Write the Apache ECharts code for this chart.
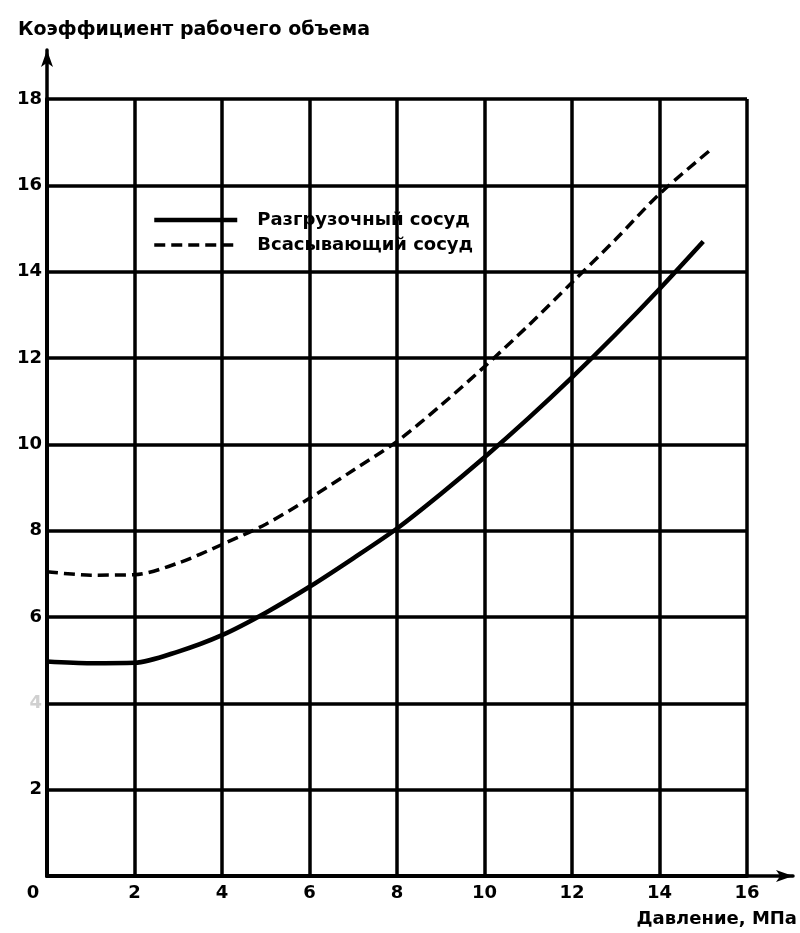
<!DOCTYPE html>
<html>
<head>
<meta charset="utf-8">
<script src="https://cdn.jsdelivr.net/npm/echarts@6/dist/echarts.min.js"></script>
<style>
  html, body { margin: 0; padding: 0; background: #fff; }
  #chart { width: 800px; height: 933px; }
</style>
</head>
<body>
<div id="chart"></div>
<script>
// Давление, МПа
var pressure = [0, 1, 2, 3, 4, 5, 6, 7, 8, 9, 10, 11, 12, 13, 14, 15];
var pressureSuction = [0, 1, 2, 3, 4, 5, 6, 7, 8, 9, 10, 11, 12, 13, 14, 15.2];
// Разгрузочный сосуд
var discharge = [4.97, 4.93, 4.94, 5.2, 5.58, 6.1, 6.7, 7.36, 8.05, 8.85, 9.7, 10.6, 11.55, 12.55, 13.6, 14.7];
// Всасывающий сосуд
var suction = [7.05, 6.97, 6.98, 7.25, 7.68, 8.15, 8.75, 9.4, 10.07, 10.9, 11.8, 12.75, 13.75, 14.75, 15.8, 16.85];

var seriesNames = ['Разгрузочный сосуд', 'Всасывающий сосуд'];

function pairs(xs, ys) {
    return xs.map(function (x, i) { return [x, ys[i]]; });
}

var chart = echarts.init(document.getElementById('chart'));
var font = 'DejaVu Sans';

var option = {
    backgroundColor: '#fff',
    animation: false,
    title: {
        text: 'Коэффициент рабочего объема',
        left: 13,
        top: 16,
        textStyle: { fontFamily: font, fontWeight: 'bold', fontSize: 19, color: '#000' }
    },
    legend: {
        orient: 'vertical',
        left: 147,
        top: 206,
        itemWidth: 83,
        itemHeight: 18,
        itemGap: 7,
        itemStyle: { opacity: 0 },
        data: [
            { name: seriesNames[0], lineStyle: { width: 4.5, color: '#000' } },
            { name: seriesNames[1], lineStyle: { width: 3.5, color: '#000', type: [11, 6] } }
        ],
        textStyle: { fontFamily: font, fontWeight: 'bold', fontSize: 18, color: '#000', padding: [0, 0, 0, 15] }
    },
    grid: [
        { left: 47, right: 52, top: 99, bottom: 57 },
        // только стрелки осей
        { left: 47, right: 7, top: 50, bottom: 57 }
    ],
    xAxis: [{
        type: 'value',
        gridIndex: 0,
        min: 0,
        max: 16,
        interval: 2,
        name: 'Давление, МПа',
        nameLocation: 'end',
        nameGap: 50,
        nameTextStyle: {
            fontFamily: font, fontWeight: 'bold', fontSize: 18, color: '#000',
            align: 'right', verticalAlign: 'top', padding: [34, 0, 0, 0]
        },
        axisLine: { onZero: false, lineStyle: { color: '#000', width: 4 } },
        axisTick: { show: false },
        axisLabel: {
            margin: 8,
            color: '#000',
            fontFamily: font, fontWeight: 'bold', fontSize: 18,
            formatter: function (v) { return v === 0 ? '{z|0}' : String(v); },
            rich: { z: { fontFamily: font, fontWeight: 'bold', fontSize: 18, color: '#000', padding: [0, 28, 0, 0] } }
        },
        splitLine: { show: true, lineStyle: { color: '#000', width: 3.5 } }
    }, {
        type: 'value',
        gridIndex: 1,
        min: 0,
        max: 1,
        axisLine: { onZero: false, symbol: ['none', 'arrow'], symbolSize: [9, 17], lineStyle: { color: '#000', width: 3.5 } },
        axisTick: { show: false },
        axisLabel: { show: false },
        splitLine: { show: false }
    }],
    yAxis: [{
        type: 'value',
        gridIndex: 0,
        min: 0,
        max: 18,
        interval: 2,
        axisLine: { show: true, onZero: false, lineStyle: { color: '#000', width: 4 } },
        axisTick: { show: false },
        axisLabel: {
            margin: 5,
            color: '#000',
            fontFamily: font, fontWeight: 'bold', fontSize: 18,
            formatter: function (v) {
                if (v === 0) return '';
                if (v === 4) return '{f|4}';
                return String(v);
            },
            rich: { f: { fontFamily: font, fontWeight: 'bold', fontSize: 18, color: '#d0d0d0' } }
        },
        splitLine: { show: true, lineStyle: { color: '#000', width: 3.5 } }
    }, {
        type: 'value',
        gridIndex: 1,
        min: 0,
        max: 1,
        axisLine: { show: true, onZero: false, symbol: ['none', 'arrow'], symbolSize: [9, 17], lineStyle: { color: '#000', width: 3.5 } },
        axisTick: { show: false },
        axisLabel: { show: false },
        splitLine: { show: false }
    }],
    series: [{
        name: seriesNames[0],
        type: 'line',
        xAxisIndex: 0,
        yAxisIndex: 0,
        smooth: 0.3,
        symbol: 'none',
        lineStyle: { color: '#000', width: 4.5 },
        itemStyle: { color: '#000' },
        data: pairs(pressure, discharge)
    }, {
        name: seriesNames[1],
        type: 'line',
        xAxisIndex: 0,
        yAxisIndex: 0,
        smooth: 0.3,
        symbol: 'none',
        lineStyle: { color: '#000', width: 3.5, type: [11, 6] },
        itemStyle: { color: '#000' },
        data: pairs(pressureSuction, suction)
    }]
};

chart.setOption(option);
</script>
</body>
</html>
